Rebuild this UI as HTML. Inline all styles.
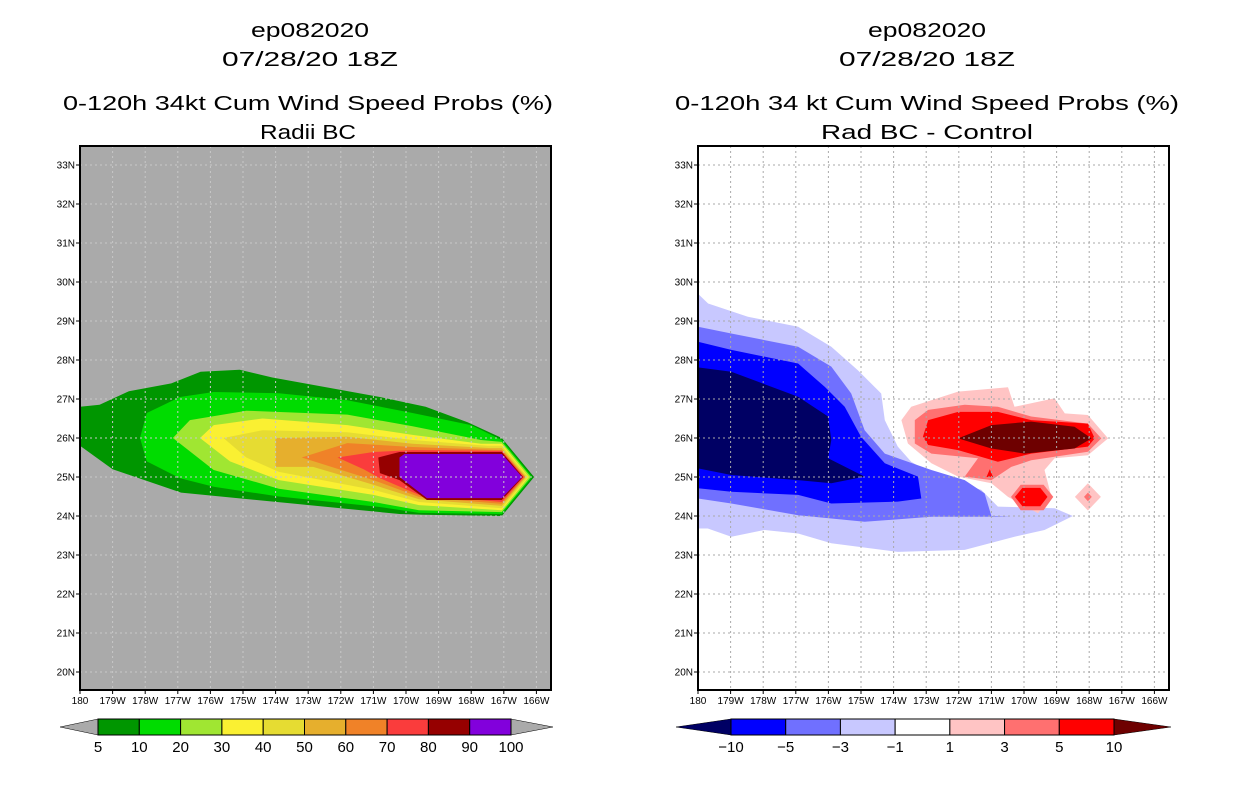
<!DOCTYPE html>
<html><head><meta charset="utf-8">
<style>
html,body{margin:0;padding:0;background:#fff;}
svg{display:block;font-family:"Liberation Sans",sans-serif;}
</style></head>
<body>
<svg id="chart" width="1236" height="800" viewBox="0 0 1236 800" xmlns="http://www.w3.org/2000/svg">
<g font-size="20" text-anchor="middle" fill="#000">
<text x="310" y="37" textLength="118" lengthAdjust="spacingAndGlyphs">ep082020</text>
<text x="310" y="66" textLength="176" lengthAdjust="spacingAndGlyphs">07/28/20 18Z</text>
<text x="308" y="110" textLength="490" lengthAdjust="spacingAndGlyphs">0-120h 34kt Cum Wind Speed Probs (%)</text>
<text x="308" y="139" textLength="96" lengthAdjust="spacingAndGlyphs">Radii BC</text>
</g>
<g font-size="20" text-anchor="middle" fill="#000">
<text x="927" y="37" textLength="118" lengthAdjust="spacingAndGlyphs">ep082020</text>
<text x="927" y="66" textLength="176" lengthAdjust="spacingAndGlyphs">07/28/20 18Z</text>
<text x="927" y="110" textLength="504" lengthAdjust="spacingAndGlyphs">0-120h 34 kt Cum Wind Speed Probs (%)</text>
<text x="927" y="139" textLength="212" lengthAdjust="spacingAndGlyphs">Rad BC - Control</text>
</g>
</svg>
<script>
// axis extents (data)
const lonTicks = ["180","179W","178W","177W","176W","175W","174W","173W","172W","171W","170W","169W","168W","167W","166W"];
const latTicks = [20,21,22,23,24,25,26,27,28,29,30,31,32,33];
// left panel contour levels (u = degrees east of 180, lat)
const leftLevels = ["5","10","20","30","40","50","60","70","80","90","100"];
const leftColors = ["#009600","#00dc00","#a0e632","#faf032","#e6dc32","#e6af2d","#f08228","#fa3c3c","#960000","#8200dc"];
const leftC5 = [[0,26.8],[0.6,26.85],[1.5,27.2],[2.8,27.4],[3.7,27.7],[4.9,27.75],[5.9,27.55],[9.2,27.05],[10.6,26.8],[11.9,26.4],[12.94,26.0],[13.93,25.0],[12.94,24.0],[10.5,24.03],[9.8,24.05],[6.75,24.3],[3.1,24.6],[1.0,25.2],[0,25.8]];
const leftC10 = [[1.84,26.0],[2.05,26.64],[3.07,27.05],[4.1,27.18],[6.1,27.15],[8.2,26.97],[10.2,26.64],[12.0,26.33],[12.94,25.95],[13.87,25.0],[12.94,24.05],[10.4,24.08],[9.2,24.23],[6.1,24.5],[4.1,24.75],[3.07,24.97],[2.05,25.4]];
const leftC20 = [[2.85,26.0],[3.37,26.46],[5.1,26.7],[8.2,26.6],[10.2,26.3],[12.3,25.95],[12.94,25.9],[13.83,25.0],[12.94,24.1],[10.4,24.15],[9.0,24.36],[6.1,24.7],[4.1,25.18]];
const leftC30 = [[3.68,26.0],[4.1,26.33],[5.6,26.5],[8.2,26.33],[10.2,26.08],[12.3,25.85],[12.94,25.85],[13.77,25.0],[12.94,24.15],[10.4,24.28],[9.0,24.54],[6.1,24.92],[4.6,25.4]];
const leftC40 = [[4.4,26.0],[5.6,26.2],[8.2,26.15],[10.2,25.95],[12.5,25.8],[12.94,25.8],[13.74,25.0],[12.94,24.2],[10.4,24.36],[9.0,24.67],[6.1,25.13],[5.1,25.5]];
const leftC50 = [[6.0,26.0],[8.2,26.03],[10.2,25.85],[12.6,25.74],[12.94,25.74],[13.68,25.0],[12.94,24.26],[10.4,24.43],[9.0,24.8],[7.15,25.26],[6.0,25.26]];
const leftC60 = [[6.8,25.5],[8.2,25.87],[10.2,25.77],[12.94,25.69],[13.65,25.0],[12.94,24.31],[10.4,24.49],[9.0,24.92]];
const leftC70 = [[7.9,25.5],[9.0,25.64],[10.2,25.69],[12.94,25.67],[13.62,25.0],[12.94,24.36],[10.4,24.54],[9.2,24.97],[8.7,25.2]];
const leftC80 = [[9.15,25.5],[9.8,25.64],[12.94,25.64],[13.59,25.0],[12.94,24.41],[10.64,24.41],[9.8,24.92],[9.2,25.1]];
const leftC90 = [[9.8,25.5],[9.95,25.59],[12.94,25.59],[13.56,25.0],[12.94,24.46],[10.64,24.46],[9.8,25.0]];
// right panel difference contours
const rightLevels = ["-10","-5","-3","-1","1","3","5","10"];
const rightColors = ["#000064","#0000ff","#7070ff","#c8c8ff","#ffffff","#ffc4c4","#ff7070","#ff0000","#6e0000"];
const rightN1 = [[0,29.7],[0.31,29.45],[1.53,29.11],[3.07,28.85],[4.09,28.34],[4.9,27.74],[5.62,27.14],[5.73,26.46],[6.13,25.78],[6.54,25.39],[7.16,25.09],[8.69,24.67],[9.2,24.24],[10.94,24.2],[11.5,24.0],[10.63,23.64],[9.71,23.47],[8.18,23.13],[6.13,23.08],[4.09,23.3],[3.07,23.55],[2.04,23.64],[1.02,23.47],[0.3,23.68],[0,23.68]];
const rightN3 = [[0,28.85],[1.02,28.68],[3.07,28.34],[4.09,27.83],[4.7,27.14],[5.11,26.2],[5.73,25.6],[7.16,25.18],[8.18,24.92],[8.79,24.58],[9.0,24.0],[9.6,23.98],[7.16,23.98],[5.11,23.85],[3.07,24.02],[1.02,24.32],[0,24.45]];
const rightN5 = [[0,28.47],[1.02,28.26],[3.07,27.91],[3.89,27.31],[4.5,26.8],[5.0,26.03],[5.73,25.35],[6.75,25.01],[6.85,24.45],[6.13,24.37],[4.09,24.32],[3.07,24.54],[1.02,24.62],[0,24.71]];
const rightN10 = [[0,27.81],[1.02,27.7],[3.07,27.06],[3.99,26.55],[4.09,25.95],[3.99,25.48],[5.11,25.01],[4.09,24.84],[3.07,24.92],[1.02,25.05],[0,25.22]];
const rightP1 = [[6.24,26.46],[6.54,26.8],[7.98,27.19],[9.51,27.3],[9.71,26.8],[10.94,27.02],[11.25,26.63],[11.96,26.59],[12.58,25.99],[11.96,25.56],[10.94,25.48],[10.63,25.18],[10.84,24.49],[10.43,24.07],[9.51,24.49],[9.0,24.84],[7.98,25.01],[7.16,25.35],[6.44,25.86]];
const rightP1b = [[11.96,24.84],[12.36,24.49],[11.96,24.14],[11.56,24.49]];
const rightP3 = [[6.65,26.46],[7.06,26.72],[8.18,26.85],[9.2,26.8],[10.22,26.55],[11.96,26.37],[12.37,25.99],[11.96,25.65],[10.22,25.43],[9.61,25.26],[9.0,24.92],[8.18,25.01],[8.59,25.48],[7.16,25.6],[6.65,25.86]];
const rightP3b = [[9.6,24.49],[9.9,24.8],[10.6,24.8],[10.9,24.49],[10.6,24.15],[9.9,24.15]];
const rightP3c = [[11.96,24.6],[12.08,24.49],[11.96,24.38],[11.84,24.49]];
const rightP5 = [[6.9,26.03],[7.06,26.46],[7.98,26.67],[9.2,26.67],[10.22,26.46],[11.96,26.37],[12.17,25.99],[11.96,25.78],[10.22,25.6],[9.2,25.39],[7.98,25.69],[7.06,25.82]];
const rightP5b = [[9.72,24.49],[9.95,24.72],[10.5,24.72],[10.72,24.49],[10.5,24.25],[9.95,24.25]];
const rightP5c = [[8.85,25.0],[8.95,25.2],[9.05,25.0]];
const rightP10 = [[7.98,25.99],[9.0,26.33],[10.22,26.42],[11.55,26.29],[12.07,25.99],[11.55,25.73],[10.02,25.6],[9.0,25.73]];

const NS = "http://www.w3.org/2000/svg";
const svg = document.getElementById("chart");
const TOP = 146, BOT = 690, LAT0 = 33, PXLAT = 39, PXLON = 32.6, LATY0 = 165;
function mk(tag, attrs, parent) {
  const e = document.createElementNS(NS, tag);
  for (const k in attrs) e.setAttribute(k, attrs[k]);
  (parent || svg).appendChild(e);
  return e;
}
function panel(x0, bg, gridColor, name) {
  const W = 471;
  const xs = u => x0 + u * PXLON;
  const ys = lat => LATY0 + (LAT0 - lat) * PXLAT;
  const g = mk("g", {});
  
  
  const clipId = name + "-clip";
  const cp = mk("clipPath", {id: clipId}, g);
  mk("rect", {x: x0, y: TOP, width: W, height: BOT - TOP}, cp);
  const bgr = mk("rect", {x: x0, y: TOP, width: W, height: BOT - TOP, fill: bg}, g);
  
  
  const fills = mk("g", {"clip-path": "url(#" + clipId + ")"}, g);
  
  
  return {g, fills, xs, ys, x0, W};
}
function poly(p, pts, color, nm) {
  const s = pts.map(q => p.xs(q[0]).toFixed(1) + "," + p.ys(q[1]).toFixed(1)).join(" ");
  const e = mk("polygon", {points: s, fill: color}, p.fills);
  
  
}
function frame(p, gridColor) {
  const gg = mk("g", {stroke: gridColor, "stroke-width": 1, "stroke-dasharray": "2,3"}, p.g);
  
  
  lonTicks.forEach((t, i) => {
    const x = p.xs(i);
    if (i > 0) mk("line", {x1: x, x2: x, y1: TOP, y2: BOT}, gg);
  });
  latTicks.forEach(lat => {
    const y = p.ys(lat);
    mk("line", {x1: p.x0, x2: p.x0 + p.W, y1: y, y2: y}, gg);
  });
  const b = mk("rect", {x: p.x0, y: TOP, width: p.W, height: BOT - TOP, fill: "none", stroke: "#000", "stroke-width": 2}, p.g);
  
  
  const ax = mk("g", {"font-size": 10, fill: "#000"}, p.g);
  
  
  lonTicks.forEach((t, i) => {
    const x = p.xs(i);
    mk("line", {x1: x, x2: x, y1: BOT, y2: BOT + 4, stroke: "#000"}, ax);
    const tx = mk("text", {x: x, y: BOT + 14, "text-anchor": "middle"}, ax);
    tx.textContent = t;
    
    
  });
  latTicks.forEach(lat => {
    const y = p.ys(lat);
    mk("line", {x1: p.x0 - 4, x2: p.x0, y1: y, y2: y, stroke: "#000"}, ax);
    const tx = mk("text", {x: p.x0 - 5, y: y + 3.5, "text-anchor": "end"}, ax);
    tx.textContent = lat + "N";
    
    
  });
}
// LEFT
const L = panel(80, "#aaaaaa", "#c8c8c8", "left");
[leftC5, leftC10, leftC20, leftC30, leftC40, leftC50, leftC60, leftC70, leftC80, leftC90].forEach((pts, i) => poly(L, pts, leftColors[i], "contour-" + leftLevels[i] + "pct"));
frame(L, "#c8c8c8");
// RIGHT
const R = panel(698, "#ffffff", "#aaaaaa", "right");
poly(R, rightN1, rightColors[3], "contour-minus1");
poly(R, rightN3, rightColors[2], "contour-minus3");
poly(R, rightN5, rightColors[1], "contour-minus5");
poly(R, rightN10, rightColors[0], "contour-minus10");
poly(R, rightP1, rightColors[5], "contour-plus1");
poly(R, rightP1b, rightColors[5], "contour-plus1-small");
poly(R, rightP3, rightColors[6], "contour-plus3");
poly(R, rightP3b, rightColors[6], "contour-plus3-blob");
poly(R, rightP3c, rightColors[6], "contour-plus3-small");
poly(R, rightP5, rightColors[7], "contour-plus5");
poly(R, rightP5b, rightColors[7], "contour-plus5-blob");
poly(R, rightP5c, rightColors[7], "contour-plus5-small");
poly(R, rightP10, rightColors[8], "contour-plus10");
frame(R, "#aaaaaa");
// colorbars
function colorbar(x0, x1, tipL, tipR, colors, labels, lcol, rcol, name) {
  const g = mk("g", {});
  
  
  const y0 = 719, y1 = 735, ym = 727;
  const tl = mk("polygon", {points: `${tipL},${ym} ${x0},${y0} ${x0},${y1}`, fill: lcol, stroke: "#000", "stroke-width": 0.5}, g);
  
  
  const tr = mk("polygon", {points: `${tipR},${ym} ${x1},${y0} ${x1},${y1}`, fill: rcol, stroke: "#000", "stroke-width": 0.5}, g);
  
  
  const w = (x1 - x0) / colors.length;
  colors.forEach((c, i) => {
    const r = mk("rect", {x: x0 + i * w, y: y0, width: w, height: y1 - y0, fill: c, stroke: "#000", "stroke-width": 1}, g);
    
    
  });
  labels.forEach((t, i) => {
    const tx = mk("text", {x: x0 + i * w, y: 752, "text-anchor": "middle", "font-size": 15, fill: "#000"}, g);
    tx.textContent = t.replace("-", "\u2212");
    
    
  });
}
colorbar(98, 511, 60, 553, leftColors, leftLevels, "#aaaaaa", "#aaaaaa", "left-colorbar");
colorbar(731, 1114, 676, 1171, rightColors.slice(1, 8), rightLevels, rightColors[0], rightColors[8], "right-colorbar");
</script>
</body></html>
